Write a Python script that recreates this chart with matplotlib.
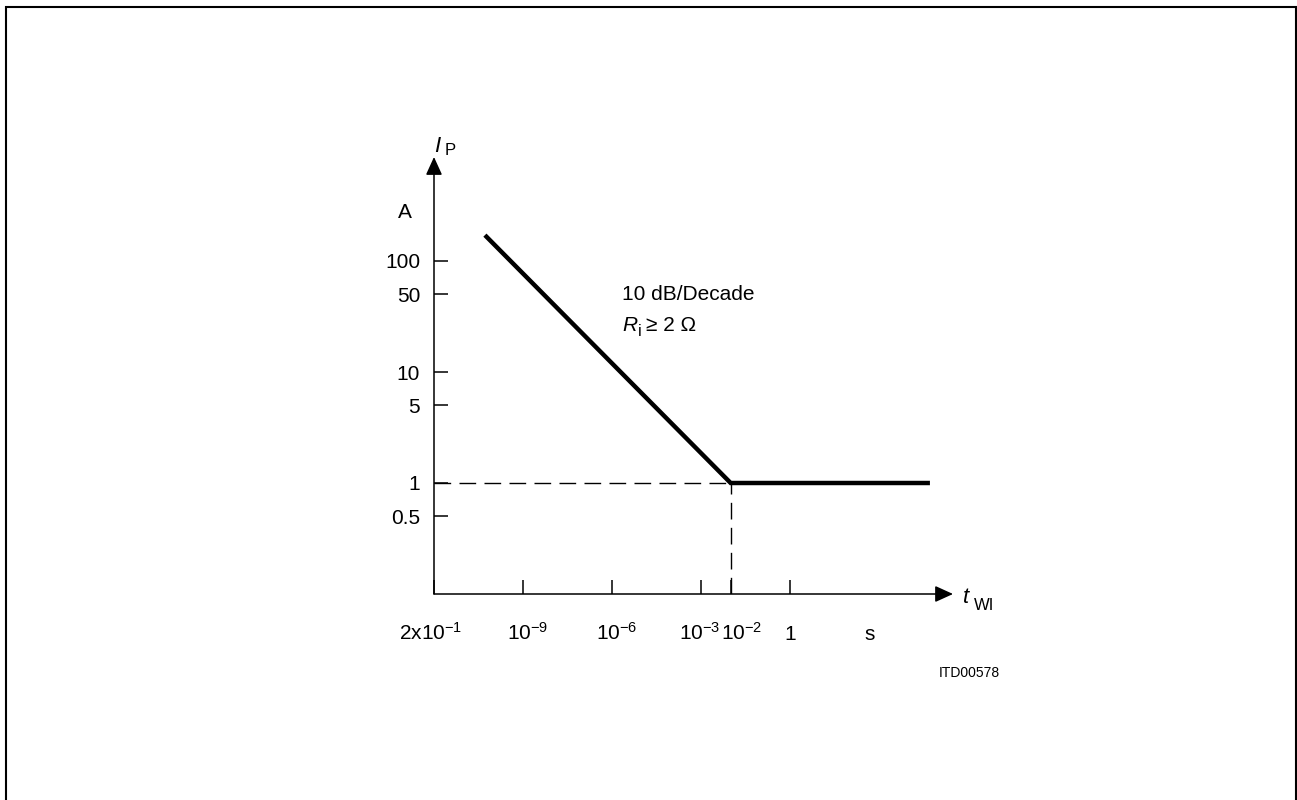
import numpy as np
import matplotlib.pyplot as plt
from matplotlib.patches import Rectangle
from matplotlib.transforms import ScaledTranslation

plt.rcParams['font.family'] = ['Liberation Sans', 'DejaVu Sans']
plt.rcParams['mathtext.fontset'] = 'custom'
plt.rcParams['mathtext.rm'] = 'Liberation Sans'
plt.rcParams['mathtext.it'] = 'Liberation Sans:italic'
plt.rcParams['mathtext.bf'] = 'Liberation Sans:bold'

# courbe I_P(t_WI) : pente puis palier a 1 A
t_wi = [5.2e-11, 1e-2, 5.2e4]
i_p = [171, 1, 1]

# point de cassure (lignes pointillees)
knee_t, knee_i = 1e-2, 1

x_ticks = [1e-12, 1e-9, 1e-6, 1e-3, 1e-2, 1, 5e2]
x_labels = [r'$2\mathrm{x}10^{-1}$', r'$10^{-9}$', r'$10^{-6}$', r'$10^{-3}$',
            r'$10^{-2}$', r'$1$', 's']
y_ticks = [100, 50, 10, 5, 1, 0.5]
y_labels = ['100', '50', '10', '5', '1', '0.5']

fig = plt.figure(figsize=(12.97, 8), dpi=100)
ax = fig.add_axes([434 / 1297, 206 / 800, 526 / 1297, 444 / 800])
ax.set_xscale('log')
ax.set_yscale('log')
ax.set_xlim(1e-12, 10 ** 5.73)
ax.set_ylim(0.1, 1000)
for sp in ax.spines.values():
    sp.set_visible(False)
ax.patch.set_visible(False)

# courbe principale
ax.plot(t_wi, i_p, color='k', lw=3.2, solid_joinstyle='miter',
        solid_capstyle='butt', clip_on=False)

# pointilles vers les axes
ax.plot([1e-12, knee_t], [knee_i, knee_i], color='k', lw=1, dashes=(12, 6))
ax.plot([knee_t, knee_t], [0.1, knee_i], color='k', lw=1, dashes=(12, 6))

# axes avec fleches
arrow = dict(arrowstyle='-|>,head_length=1.1,head_width=0.5', color='k',
             lw=1.1, shrinkA=0, shrinkB=0, mutation_scale=10)
ax.annotate('', xy=(10 ** 5.495, 0.1), xytext=(1e-12, 0.1),
            arrowprops=arrow, annotation_clip=False)
ax.annotate('', xy=(1e-12, 10 ** 2.937), xytext=(1e-12, 0.1),
            arrowprops=arrow, annotation_clip=False)

# graduations
ax.set_xticks(x_ticks, x_labels)
ax.set_yticks(y_ticks, y_labels)
ax.minorticks_off()
ax.tick_params(axis='both', direction='in', length=10, width=1.1,
               labelsize=15, color='k')
ax.tick_params(axis='x', pad=33)
ax.tick_params(axis='y', pad=10)
ax.xaxis.get_major_ticks()[-1].tick1line.set_visible(False)

shifts = [-3, 5, 5, -1, 11, 0, 0]
for lab, dx in zip(ax.get_xticklabels(), shifts):
    lab.set_verticalalignment('baseline')
    lab.set_transform(lab.get_transform() +
                      ScaledTranslation(dx / 100, 0, fig.dpi_scale_trans))

# textes
ax.text(10 ** -5.663, 49.4, '10 dB/Decade', fontsize=15, va='center', ha='left')
r_pos = (10 ** -5.663, 26)
ax.text(*r_pos, 'R', fontsize=15, style='italic', va='center', ha='left')
ax.annotate('i', xy=r_pos, xytext=(11.5, -4), textcoords='offset points',
            fontsize=11.5, va='center', ha='left', annotation_clip=False)
ax.annotate('≥ 2 Ω', xy=r_pos, xytext=(17.5, 0), textcoords='offset points',
            fontsize=15, va='center', ha='left', annotation_clip=False)
ax.text(10 ** -12.74, 276, 'A', fontsize=15, va='center', ha='right')

# I_P au-dessus de l'axe vertical
ax.text(1e-12, 10 ** 3.036, 'I', fontsize=16, style='italic',
        va='center', ha='left')
ax.annotate('P', xy=(1e-12, 10 ** 3.036), xytext=(7.5, -3),
            textcoords='offset points', fontsize=12, va='center', ha='left',
            annotation_clip=False)

# t_WI au bout de l'axe horizontal
ax.text(10 ** 5.83, 10 ** -1.03, 't', fontsize=16, style='italic',
        va='center', ha='left')
ax.annotate('WI', xy=(10 ** 5.83, 10 ** -1.03), xytext=(8, -6),
            textcoords='offset points', fontsize=12, va='center', ha='left',
            annotation_clip=False)

ax.text(10 ** 6.03, 0.0195, 'ITD00578', fontsize=10, va='center', ha='center')

# cadre
fig.add_artist(Rectangle((6 / 1297, -0.01), 1290 / 1297, 1 - 7 / 800 + 0.01,
                         transform=fig.transFigure, fill=False, lw=1.5,
                         edgecolor='k'))

fig.savefig('out.png', dpi=100)
